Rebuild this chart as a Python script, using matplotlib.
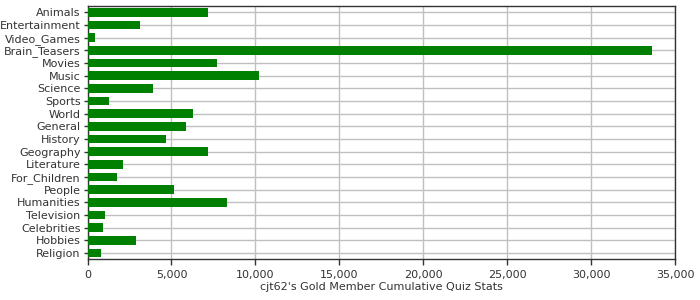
import matplotlib
matplotlib.use("Agg")
import matplotlib.pyplot as plt
from matplotlib.ticker import FuncFormatter, MultipleLocator

categories = ["Animals", "Entertainment", "Video_Games", "Brain_Teasers", "Movies",
              "Music", "Science", "Sports", "World", "General", "History", "Geography",
              "Literature", "For_Children", "People", "Humanities", "Television",
              "Celebrities", "Hobbies", "Religion"]
values = [7170, 3100, 450, 33600, 7710, 10210, 3900, 1280, 6280, 5860, 4670, 7170,
          2110, 1760, 5150, 8300, 1040, 920, 2890, 800]
xlabel = "cjt62's Gold Member Cumulative Quiz Stats"

plt.rcParams['font.family'] = ['DejaVu Sans']
fig = plt.figure(figsize=(7, 3), dpi=100)
ax = fig.add_axes([0.125, 0.1357, 0.8397, 0.8443])

y = list(range(len(categories)))
ax.barh(y, values, height=0.68, color='#008000', zorder=3)
ax.set_yticks(y)
ax.set_yticklabels(categories)
ax.set_ylim(len(categories) - 0.5, -0.5)
ax.set_xlim(0, 35000)
ax.xaxis.set_major_locator(MultipleLocator(5000))
ax.xaxis.set_major_formatter(FuncFormatter(lambda v, p: f"{int(v):,}"))
ax.grid(True, color='#c0c0c0', linewidth=1, zorder=0)
ax.set_axisbelow(True)
for s in ax.spines.values():
    s.set_color('#333333')
    s.set_linewidth(1)
ax.tick_params(axis='both', colors='#333333', labelsize=8, length=4, width=1)
ax.tick_params(axis='y', length=3, pad=2)
ax.set_xlabel(xlabel, fontsize=8, color='#333333', labelpad=2)
fig.savefig("out.png", dpi=100)
